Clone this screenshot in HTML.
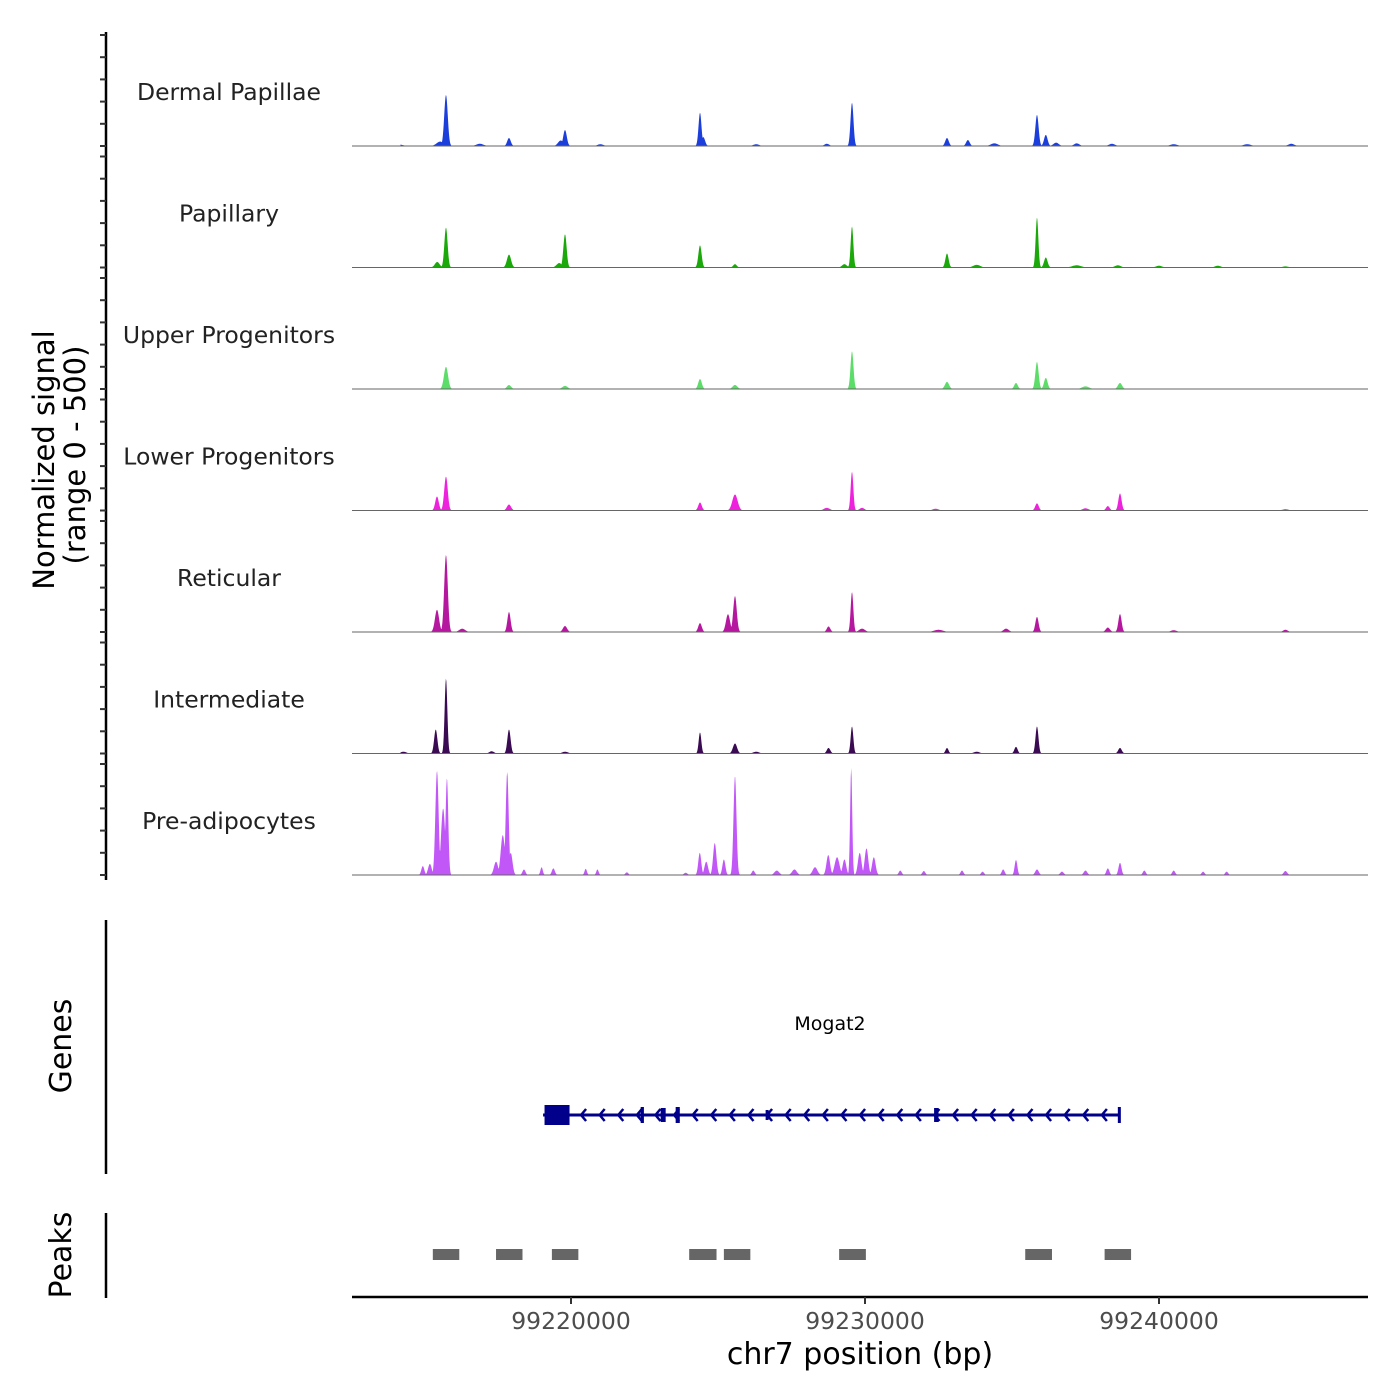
<!DOCTYPE html>
<html><head><meta charset="utf-8"><style>
html,body{margin:0;padding:0;background:#fff;}
svg{display:block;font-family:"DejaVu Sans","Liberation Sans",sans-serif;}
</style></head><body>
<svg id="chart" width="1400" height="1400" viewBox="0 0 1400 1400" xmlns="http://www.w3.org/2000/svg">
<g id="tracks"></g>
<g id="yaxis"></g>
<text x="0" y="0" transform="translate(54,460) rotate(-90)" text-anchor="middle" font-size="29" fill="#000">Normalized signal</text>
<text x="0" y="0" transform="translate(85,455) rotate(-90)" text-anchor="middle" font-size="29" fill="#000">(range 0 - 500)</text>
<line x1="106" y1="920" x2="106" y2="1174" stroke="#000" stroke-width="2.5"/>
<text transform="translate(71,1046) rotate(-90)" text-anchor="middle" font-size="30">Genes</text>
<g id="genes"></g>
<line x1="106" y1="1213" x2="106" y2="1298" stroke="#000" stroke-width="2.5"/>
<text transform="translate(71,1255) rotate(-90)" text-anchor="middle" font-size="30">Peaks</text>
<g id="peaks"></g>
<g id="xaxis"></g>
<text x="860" y="1364" text-anchor="middle" font-size="30">chr7 position (bp)</text>
</svg>
<script>
const trackNames = ["Dermal Papillae","Papillary","Upper Progenitors","Lower Progenitors","Reticular","Intermediate","Pre-adipocytes"];
const trackColors = ["#1c3fdc","#1aa80a","#5cdc68","#ee22dd","#b5189f","#3a0a52","#c157f7"];
// peaks: [position bp, signal (0-500), sigma bp]
const dermalPeaks = [[99215748,230,60],[99215550,20,120],[99217891,36,60],[99219796,72,60],[99219650,25,90],[99224388,150,50],[99224500,40,60],[99229558,195,50],[99232789,36,60],[99233500,27,60],[99235850,140,55],[99236150,50,60],[99236500,15,90],[99237200,12,90],[99214100,8,150],[99216900,10,120],[99221000,8,100],[99226300,8,100],[99228700,10,80],[99234400,12,120],[99238400,10,100],[99240500,8,120],[99243000,8,120],[99244500,10,100]];
const papillaryPeaks = [[99215748,180,55],[99215450,25,80],[99217891,58,70],[99219796,150,55],[99219600,20,90],[99224388,100,55],[99225578,15,60],[99229558,185,45],[99229300,15,80],[99232789,63,55],[99233800,12,120],[99235850,225,45],[99236150,45,60],[99237200,10,150],[99238600,10,100],[99240000,8,100],[99242000,8,100],[99244300,5,100]];
const upperPeaks = [[99215748,100,70],[99217891,18,70],[99219796,14,90],[99224388,45,60],[99225578,18,80],[99229558,170,50],[99232789,32,70],[99235136,27,60],[99235850,122,55],[99236150,50,60],[99237500,12,120],[99238673,27,70]];
const lowerPeaks = [[99215442,63,60],[99215748,153,60],[99217891,27,70],[99224388,36,60],[99225578,72,90],[99228700,12,100],[99229558,175,45],[99229900,12,80],[99232400,8,100],[99235850,32,60],[99238260,20,60],[99238673,77,55],[99237500,10,100],[99244300,6,100]];
const reticularPeaks = [[99215442,100,70],[99215748,347,60],[99216300,15,100],[99217891,90,55],[99219796,27,70],[99224388,40,60],[99225340,80,70],[99225578,162,60],[99228760,25,60],[99229558,180,45],[99229900,15,100],[99232500,10,150],[99234800,15,90],[99235850,68,55],[99238260,20,70],[99238673,81,55],[99240500,8,100],[99244300,10,80]];
const interPeaks = [[99215400,108,55],[99215748,338,45],[99217891,108,55],[99217300,10,80],[99224388,95,45],[99225578,45,70],[99228760,25,60],[99229558,122,45],[99232789,25,50],[99235136,30,55],[99235850,122,50],[99238673,25,60],[99214300,8,100],[99219800,8,100],[99226300,8,100],[99233800,8,100]];
const adipoPeaks = [[99215442,470,55],[99215650,300,70],[99215780,437,45],[99214960,40,50],[99215200,50,60],[99217450,60,70],[99217680,180,70],[99217830,464,50],[99217950,100,60],[99218400,25,50],[99219000,35,40],[99219400,30,50],[99220500,28,40],[99220900,25,40],[99221900,12,50],[99223900,10,60],[99224380,100,50],[99224600,60,60],[99224890,144,55],[99225200,70,50],[99225578,446,50],[99226200,20,50],[99227000,20,80],[99227600,25,80],[99228300,35,80],[99228750,90,60],[99229050,80,80],[99229300,70,60],[99229530,482,35],[99229820,100,60],[99230050,120,60],[99230300,80,60],[99231200,20,50],[99232000,18,50],[99233300,20,50],[99234000,15,50],[99234700,25,50],[99235136,68,45],[99235850,25,60],[99236700,15,60],[99237500,20,60],[99238260,30,50],[99238673,55,50],[99239500,20,50],[99240500,20,50],[99241500,15,50],[99242300,15,50],[99244300,18,60]];
const trackPeaks = [dermalPeaks,papillaryPeaks,upperPeaks,lowerPeaks,reticularPeaks,interPeaks,adipoPeaks];
const trackSpan = [99214200,99246000];
const xTicks = [99220000,99230000,99240000];
const geneName = "Mogat2";
const geneStart = 99219050, geneEnd = 99238650;
const geneExons = [[99219100,99219950,16],[99222370,99222480,12],[99223050,99223220,10],[99223560,99223700,12],[99226620,99226660,6],[99232350,99232500,10],[99238600,99238670,12]];
const peakRegions = [[99215300,99216200],[99217450,99218350],[99219350,99220250],[99224020,99224950],[99225200,99226100],[99229120,99230030],[99235450,99236360],[99238150,99239050]];

const NS="http://www.w3.org/2000/svg";
const xScale = bp => 571 + (bp-99220000)*0.0294;
const trackBase = i => 146 + i*121.5;
const yScale = (v,i) => trackBase(i) - v*111/500;
function el(tag,attrs,parent){const e=document.createElementNS(NS,tag);for(const k in attrs)e.setAttribute(k,attrs[k]);parent.appendChild(e);return e;}

const tg=document.getElementById('tracks');
trackNames.forEach((name,i)=>{
  const g=el('g',{},tg);
  
  
  const t=el('text',{x:229,y:trackBase(i)-46,'text-anchor':'middle','font-size':23.5,fill:'#222'},g);
  t.textContent=name;
  
  
  let d='M'+xScale(trackSpan[0])+','+trackBase(i);
  for(let bp=trackSpan[0];bp<=trackSpan[1];bp+=15){
    let v=0;
    for(const p of trackPeaks[i]){const z=(bp-p[0])/p[2];if(Math.abs(z)<4)v=Math.max(v,p[1]*Math.exp(-z*z/2));}
    d+='L'+xScale(bp).toFixed(2)+','+yScale(Math.min(v,500),i).toFixed(2);
  }
  d+='L'+xScale(trackSpan[1])+','+trackBase(i)+'Z';
  const a=el('path',{d:d,fill:trackColors[i]},g);
  
  
  const b=el('line',{x1:352,x2:1368,y1:trackBase(i),y2:trackBase(i),stroke:'#666','stroke-width':1},g);
  
  
});
const ya=document.getElementById('yaxis');
const axl=el('line',{x1:106,x2:106,y1:32,y2:880,stroke:'#000','stroke-width':2.5},ya);


for(let i=0;i<7;i++){for(let k=0;k<=5;k++){
  const y=yScale(k*100,i);
  const tk=el('line',{x1:100,x2:106,y1:y,y2:y,stroke:'#333','stroke-width':2},ya);
  
  
}}
const gg=document.getElementById('genes');
const gy=1115;
const gl=el('line',{x1:xScale(geneStart),x2:xScale(geneEnd),y1:gy,y2:gy,stroke:'#00008b','stroke-width':3},gg);


for(let x=xScale(geneStart)+38;x<xScale(geneEnd)-5;x+=18.6){
  const ar=el('path',{d:`M${x+5},${gy-6}L${x},${gy}L${x+5},${gy+6}`,fill:'none',stroke:'#00008b','stroke-width':2.5},gg);
  
  
}
geneExons.forEach(e=>{
  const w=Math.max(3,xScale(e[1])-xScale(e[0]));
  const r=el('rect',{x:xScale(e[0]),y:gy-e[2]/2-2,width:w,height:e[2]+4,fill:'#00008b'},gg);
  
  
});
const gt=el('text',{x:830,y:1030,'text-anchor':'middle','font-size':19},gg);
gt.textContent=geneName;


const pg=document.getElementById('peaks');
peakRegions.forEach(p=>{
  const r=el('rect',{x:xScale(p[0]),y:1249,width:xScale(p[1])-xScale(p[0]),height:11,fill:'#666'},pg);
  
  
});
const xa=document.getElementById('xaxis');
const xl=el('line',{x1:352,x2:1368,y1:1297,y2:1297,stroke:'#000','stroke-width':2.5},xa);


xTicks.forEach(t=>{
  const x=xScale(t);
  const tk=el('line',{x1:x,x2:x,y1:1297,y2:1304,stroke:'#333','stroke-width':2},xa);
  
  
  const lb=el('text',{x:x,y:1329,'text-anchor':'middle','font-size':23.5,fill:'#4d4d4d'},xa);
  lb.textContent=String(t);
  
  
});
</script>
</body></html>
